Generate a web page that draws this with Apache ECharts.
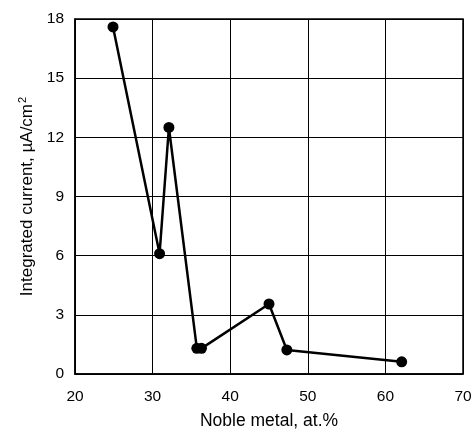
<!DOCTYPE html>
<html>
<head>
<meta charset="utf-8">
<script src="https://cdn.jsdelivr.net/npm/echarts@6/dist/echarts.min.js"></script>
<style>
  html, body { margin: 0; padding: 0; background: #fff; }
  #chart { width: 471px; height: 429px; }
</style>
</head>
<body>
<div id="chart"></div>
<script>
// Noble metal content (at.%) and integrated current (µA/cm²)
const nobleMetal = [24.9, 30.9, 32.1, 35.7, 36.3, 45.0, 47.3, 62.1];
const integratedCurrent = [17.6, 6.1, 12.5, 1.3, 1.3, 3.55, 1.22, 0.62];

const xTicks = [20, 30, 40, 50, 60, 70];
const yTicks = [0, 3, 6, 9, 12, 15, 18];

const FONT = '"Liberation Sans Narrow", "Liberation Sans", Arial, sans-serif';
const TITLE_FONT = '"Liberation Sans", Arial, sans-serif';

const chart = echarts.init(document.getElementById('chart'), null, { renderer: 'canvas' });

chart.setOption({
  animation: false,
  backgroundColor: '#fff',
  grid: {
    left: 75, right: 8, top: 19, bottom: 55,
    outerBoundsMode: 'none',
    containLabel: false,
    show: true, borderColor: '#000', borderWidth: 1.5
  },
  xAxis: {
    type: 'value',
    min: xTicks[0],
    max: xTicks[xTicks.length - 1],
    interval: 10,
    name: 'Noble metal, at.%',
    nameLocation: 'middle',
    nameGap: 38,
    nameTextStyle: { fontFamily: TITLE_FONT, fontSize: 17.5, color: '#000' },
    axisLine: { lineStyle: { color: '#000', width: 1.5 } },
    axisTick: { show: false },
    axisLabel: { fontFamily: FONT, fontSize: 15.5, color: '#000', margin: 15 },
    splitLine: { show: true, lineStyle: { color: '#000', width: 1 } }
  },
  yAxis: {
    type: 'value',
    min: yTicks[0],
    max: yTicks[yTicks.length - 1],
    interval: 3,
    name: '{t|Integrated current, µA/cm}{s|2}',
    nameLocation: 'middle',
    nameGap: 31,
    nameTextStyle: {
      rich: {
        t: { fontFamily: TITLE_FONT, fontSize: 17, color: '#000' },
        s: { fontFamily: TITLE_FONT, fontSize: 11, color: '#000', verticalAlign: 'top', padding: [0, 0, 9, 1] }
      }
    },
    axisLine: { lineStyle: { color: '#000', width: 1.5 } },
    axisTick: { show: false },
    axisLabel: { fontFamily: FONT, fontSize: 15.5, color: '#000', margin: 11 },
    splitLine: { show: true, lineStyle: { color: '#000', width: 1 } }
  },
  series: [{
    type: 'line',
    data: nobleMetal.map((x, i) => [x, integratedCurrent[i]]),
    symbol: 'circle',
    symbolSize: 11,
    lineStyle: { color: '#000', width: 2.5 },
    itemStyle: { color: '#000' }
  }]
});
</script>
</body>
</html>
